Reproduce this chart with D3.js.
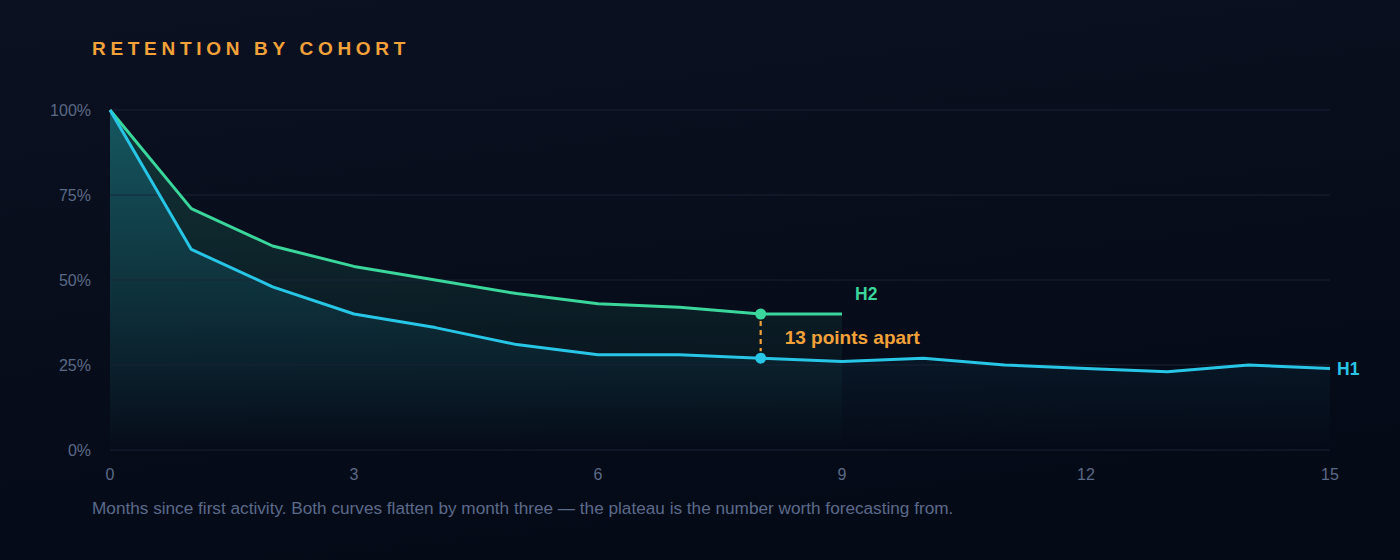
<!DOCTYPE html>
<html><head><meta charset="utf-8">
<script src="https://cdn.jsdelivr.net/npm/d3@7"></script>
<style>
html,body{margin:0;padding:0;background:#070c1a;}
svg{display:block;}
</style></head>
<body>
<svg id="c" width="1400" height="560"></svg>
<script>
const months = [0,1,2,3,4,5,6,7,8,9,10,11,12,13,14,15];
const h1Values = [100,59,48,40,36,31,28,28,27,26,27,25,24,23,25,24];
const h2Values = [100,71,60,54,50,46,43,42,40,40];
const yTicks = [0,25,50,75,100];
const xTicks = [0,3,6,9,12,15];
const gapMonth = 8;

const FONT="'Liberation Sans', Arial, Helvetica, sans-serif";
const W=1400,H=560;
const svg=d3.select("#c");
const defs=svg.append("defs");
const bg=defs.append("linearGradient").attr("id","bg").attr("x1",0).attr("y1",0).attr("x2",0.3).attr("y2",1);
bg.append("stop").attr("offset","0%").attr("stop-color","#0b1121");
bg.append("stop").attr("offset","100%").attr("stop-color","#050a17");
svg.append("rect").attr("width",W).attr("height",H).attr("fill","url(#bg)");

const g1=defs.append("linearGradient").attr("id","g1").attr("x1",0).attr("y1",0).attr("x2",0).attr("y2",1);
g1.append("stop").attr("offset","0%").attr("stop-color","#1fb8d8").attr("stop-opacity",0.25);
g1.append("stop").attr("offset","100%").attr("stop-color","#1fb8d8").attr("stop-opacity",0.0);
const g2=defs.append("linearGradient").attr("id","g2").attr("x1",0).attr("y1",0).attr("x2",0).attr("y2",1);
g2.append("stop").attr("offset","0%").attr("stop-color","#34d399").attr("stop-opacity",0.2);
g2.append("stop").attr("offset","100%").attr("stop-color","#34d399").attr("stop-opacity",0.0);

const x=d3.scaleLinear().domain([0,15]).range([110,1330]);
const y=d3.scaleLinear().domain([0,100]).range([450,110]);

const h1=months.map((mo,i)=>({m:mo,v:h1Values[i]}));
const h2=h2Values.map((v,i)=>({m:months[i],v}));

const area=d3.area().x(d=>x(d.m)).y0(y(0)).y1(d=>y(d.v));
const line=d3.line().x(d=>x(d.m)).y(d=>y(d.v));

svg.append("path").datum(h2).attr("d",area).attr("fill","url(#g2)");
svg.append("path").datum(h1).attr("d",area).attr("fill","url(#g1)");

// grid
svg.append("g").selectAll("line").data(yTicks).join("line")
  .attr("x1",x(0)).attr("x2",x(15)).attr("y1",d=>y(d)).attr("y2",d=>y(d))
  .attr("stroke","#1c2538").attr("stroke-opacity",0.9).attr("stroke-width",1.2);

// y labels
svg.append("g").selectAll("text").data(yTicks).join("text")
  .attr("x",91).attr("y",d=>y(d)+5.5).attr("text-anchor","end")
  .attr("fill","#5b6a86").attr("font-family",FONT).attr("font-size",16)
  .text(d=>d+"%");
// x labels
svg.append("g").selectAll("text").data(xTicks).join("text")
  .attr("x",d=>x(d)).attr("y",480).attr("text-anchor","middle")
  .attr("fill","#5b6a86").attr("font-family",FONT).attr("font-size",16)
  .text(d=>d);

svg.append("path").datum(h2).attr("d",line).attr("fill","none").attr("stroke","#3ad69b").attr("stroke-width",3).attr("stroke-linejoin","round");
svg.append("path").datum(h1).attr("d",line).attr("fill","none").attr("stroke","#28c6e6").attr("stroke-width",3).attr("stroke-linejoin","round");

// annotation
const v1=h1Values[gapMonth], v2=h2Values[gapMonth];
svg.append("line").attr("x1",x(gapMonth)).attr("x2",x(gapMonth)).attr("y1",y(v2)+7).attr("y2",y(v1)-7)
  .attr("stroke","#f3a23a").attr("stroke-width",2.2).attr("stroke-dasharray","5,4");
svg.append("circle").attr("cx",x(gapMonth)).attr("cy",y(v2)).attr("r",5.5).attr("fill","#3ad69b");
svg.append("circle").attr("cx",x(gapMonth)).attr("cy",y(v1)).attr("r",5.5).attr("fill","#28c6e6");
svg.append("text").attr("x",x(gapMonth)+24).attr("y",(y(v1)+y(v2))/2+8)
  .attr("fill","#f3a23a").attr("font-family",FONT).attr("font-weight",700).attr("font-size",19)
  .text((v2-v1)+" points apart");

// series labels
svg.append("text").attr("x",x(9)+13).attr("y",y(v2)-14.5)
  .attr("fill","#3ad69b").attr("font-family",FONT).attr("font-weight",700).attr("font-size",17.5).text("H2");
svg.append("text").attr("x",x(15)+7).attr("y",y(h1Values[15])+6.5)
  .attr("fill","#28c6e6").attr("font-family",FONT).attr("font-weight",700).attr("font-size",17.5).text("H1");

// title
svg.append("text").attr("x",92).attr("y",54.5)
  .attr("fill","#f3a23a").attr("font-family",FONT).attr("font-weight",700).attr("font-size",19)
  .attr("letter-spacing",4.7).text("RETENTION BY COHORT");
// footnote
svg.append("text").attr("x",92).attr("y",514)
  .attr("fill","#5b6a8a").attr("font-family",FONT).attr("font-size",17.2)
  .text("Months since first activity. Both curves flatten by month three — the plateau is the number worth forecasting from.");
</script>
</body></html>
